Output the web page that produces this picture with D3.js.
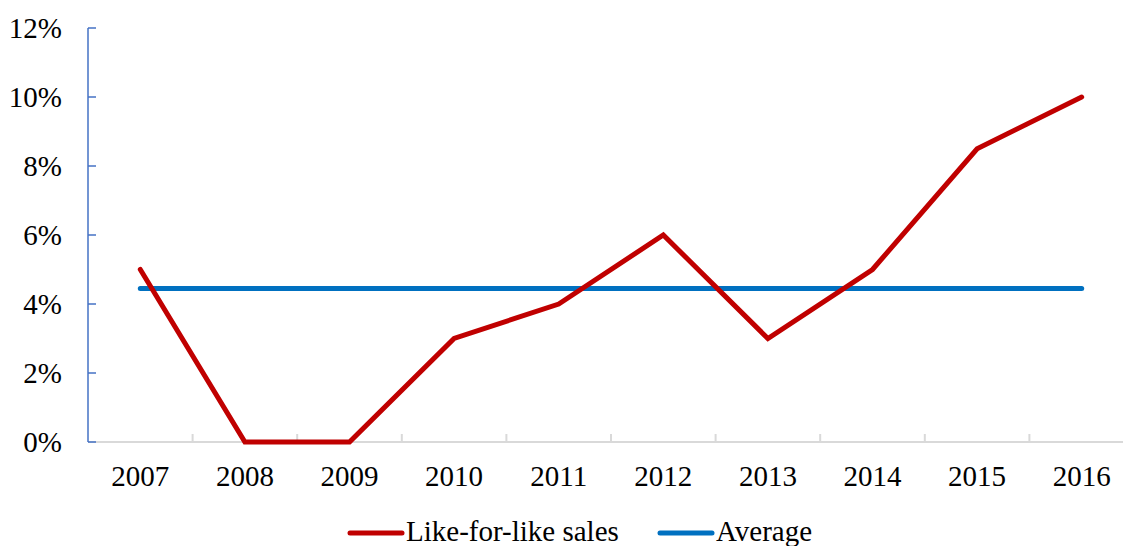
<!DOCTYPE html>
<html><head><meta charset="utf-8">
<script src="https://cdn.jsdelivr.net/npm/d3@7"></script>
<style>body{margin:0;background:#fff;} svg{display:block;font-family:"Liberation Serif","Times New Roman",serif;}</style>
</head><body>
<svg id="chart" width="1123" height="546"></svg>
<script>
const years = ["2007","2008","2009","2010","2011","2012","2013","2014","2015","2016"];
const likeForLike = [5, 0, 0, 3, 4, 6, 3, 5, 8.5, 10];
const yTicks = [0, 2, 4, 6, 8, 10, 12];
const average = d3.mean(likeForLike);

const svg = d3.select("#chart");
const plotLeft = 88, plotRight = 1134, plotTop = 28, plotBottom = 442;
const fontSize = 29;

const x = d3.scaleBand().domain(years).range([plotLeft, plotRight]);
const y = d3.scaleLinear().domain([0, 12]).range([plotBottom, plotTop]);

// x axis with ticks at band boundaries
svg.append("line").attr("x1", plotLeft).attr("x2", 1123).attr("y1", plotBottom).attr("y2", plotBottom)
  .attr("stroke", "#d9d9d9").attr("stroke-width", 2);
years.forEach(yr => {
  const bx = x(yr);
  svg.append("line").attr("x1", bx + x.bandwidth()).attr("x2", bx + x.bandwidth())
    .attr("y1", plotBottom).attr("y2", plotBottom - 8).attr("stroke", "#d9d9d9").attr("stroke-width", 2);
  svg.append("text").attr("x", bx + x.bandwidth() / 2).attr("y", 486)
    .attr("text-anchor", "middle").attr("font-size", fontSize).attr("fill", "#000").text(yr);
});

// y axis
svg.append("line").attr("x1", plotLeft).attr("x2", plotLeft).attr("y1", plotTop).attr("y2", plotBottom)
  .attr("stroke", "#4472c4").attr("stroke-width", 1.5);
yTicks.forEach(t => {
  svg.append("line").attr("x1", plotLeft).attr("x2", plotLeft + 8).attr("y1", y(t)).attr("y2", y(t))
    .attr("stroke", "#4472c4").attr("stroke-width", 1.5);
  svg.append("text").attr("x", 62).attr("y", y(t) + 10).attr("text-anchor", "end")
    .attr("font-size", fontSize).attr("fill", "#000").text(t + "%");
});

const cx = d => x(d) + x.bandwidth() / 2;

// average line
svg.append("line")
  .attr("x1", cx(years[0])).attr("x2", cx(years[years.length - 1]))
  .attr("y1", y(average)).attr("y2", y(average))
  .attr("stroke", "#0070c0").attr("stroke-width", 5).attr("stroke-linecap", "round");

// like-for-like line
const line = d3.line().x((d, i) => cx(years[i])).y(d => y(d));
svg.append("path").datum(likeForLike).attr("d", line)
  .attr("fill", "none").attr("stroke", "#c00000").attr("stroke-width", 5)
  .attr("stroke-linecap", "round").attr("stroke-linejoin", "miter");

// legend
const legend = [
  {label: "Like-for-like sales", color: "#c00000", x: 350},
  {label: "Average", color: "#0070c0", x: 660}
];
legend.forEach(l => {
  svg.append("line").attr("x1", l.x).attr("x2", l.x + 52).attr("y1", 533).attr("y2", 533)
    .attr("stroke", l.color).attr("stroke-width", 5).attr("stroke-linecap", "round");
  svg.append("text").attr("x", l.x + 56).attr("y", 541).attr("font-size", fontSize)
    .attr("fill", "#000").text(l.label);
});
</script>
</body></html>
